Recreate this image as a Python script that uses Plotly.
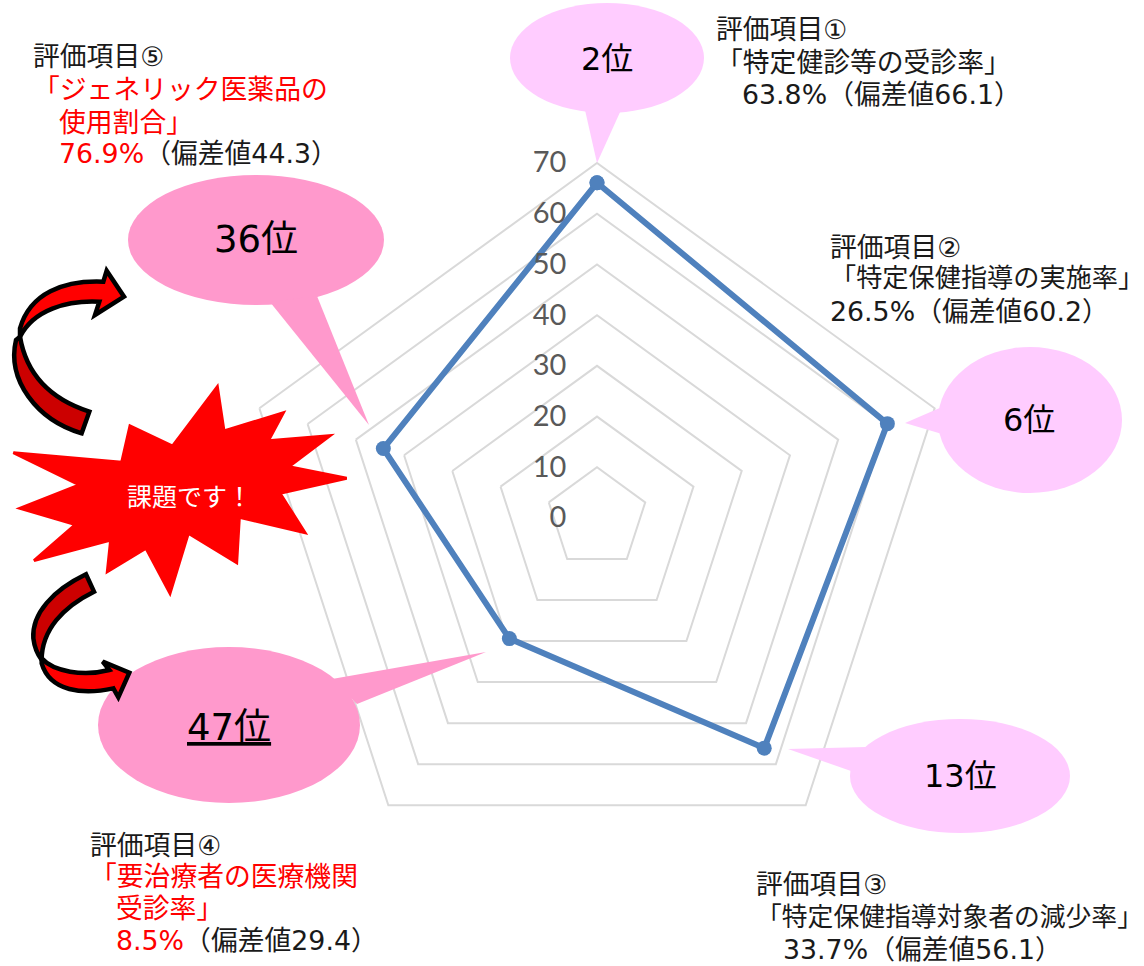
import plotly.graph_objects as go

W, H = 1144, 966
categories = ["評価項目①", "評価項目②", "評価項目③", "評価項目④", "評価項目⑤"]
deviation = [66.1, 60.2, 56.1, 29.4, 44.3]
rank_labels = ["2位", "6位", "13位", "<u>47位</u>", "36位"]
radial_ticks = [0, 10, 20, 30, 40, 50, 60, 70]

FONT = "DejaVu Sans, Noto Sans CJK JP, sans-serif"
LIGHT, PINK, RED = "#FFCCFF", "#FF99CC", "#FF0000"
RS = '<span style="color:#FF0000">'
SE = "</span>"

text_lines = [
    (717, 30, "評価項目①", 26.8), (717, 63, "「特定健診等の受診率」", 26.8), (743, 94, "63.8%（偏差値66.1）", 26.8),
    (831, 247, "評価項目②", 26.8), (831, 278, "「特定保健指導の実施率」", 26.2), (831, 311, "26.5%（偏差値60.2）", 26.8),
    (757, 884, "評価項目③", 26.8), (757, 917, "「特定保健指導対象者の減少率」", 25.8), (784, 949, "33.7%（偏差値56.1）", 26.8),
    (91, 845, "評価項目④", 26.8), (91, 876, RS + "「要治療者の医療機関" + SE, 26.8), (117, 908, RS + "受診率」" + SE, 26.8),
    (117, 940, RS + "8.5%" + SE + "（偏差値29.4）", 26.8),
    (34, 57, "評価項目⑤", 26.8), (34, 90, RS + "「ジェネリック医薬品の" + SE, 26.8), (60, 122, RS + "使用割合」" + SE, 26.8),
    (60, 153, RS + "76.9%" + SE + "（偏差値44.3）", 26.8),
]
rank_pos = [(607, 59, 32), (1029, 420, 32), (960, 776, 32), (229, 727, 37), (256, 239, 37)]

callouts = [
    ((607, 58, 97, 55), [(585, 110), (597, 163), (621, 110)], LIGHT),
    ((1030, 420, 92, 73), [(942, 407), (905, 423), (942, 434)], LIGHT),
    ((960, 776, 110, 57), [(866, 747), (788, 749), (851, 771)], LIGHT),
    ((256, 240, 128, 65), [(270, 302), (369, 425), (317, 296)], PINK),
    ((229, 725, 131, 78), [(332, 679), (486, 652), (357, 704)], PINK),
]

star_z = [(40, 668), (365, 697), (390, 588), (518, 648), (652, 470), (672, 603), (850, 548), (805, 632),
          (990, 617), (867, 710), (1040, 745), (840, 790), (915, 908), (718, 862), (710, 998), (565, 910),
          (510, 1090), (438, 955), (322, 1025), (332, 930), (102, 992), (226, 884), (60, 835), (238, 765)]

def px(x, y):
    return x / W, 1 - y / H

def zpt(x, y):
    a, b = px(x / 3, y / 3 + 230)
    return f"{a:.5f},{b:.5f}"

def zpath(cmds):
    out = []
    for c in cmds:
        if c == "Z":
            out.append("Z")
        else:
            out.append(c[0] + " " + " ".join(zpt(*p) for p in c[1:]))
    return " ".join(out)

shapes = []
for (cx, cy, rx, ry), tail, col in callouts:
    a, b = px(cx - rx, cy + ry)
    c, d = px(cx + rx, cy - ry)
    shapes.append(dict(type="circle", xref="paper", yref="paper", x0=a, y0=b, x1=c, y1=d,
                       fillcolor=col, line_width=0, layer="above"))
    pts = [px(*p) for p in tail]
    shapes.append(dict(type="path", xref="paper", yref="paper",
                       path="M " + " L ".join(f"{x:.5f},{y:.5f}" for x, y in pts) + " Z",
                       fillcolor=col, line_width=0, layer="above"))

shapes.append(dict(type="path", xref="paper", yref="paper", layer="above",
                   path="M " + " L ".join(zpt(*p) for p in star_z) + " Z",
                   fillcolor=RED, line=dict(color=RED, width=3)))

arrows = [
    ("#CC0000", [("M", (268, 545)), ("C", (160, 510), (80, 440), (60, 320)), ("L", (48, 330)),
                 ("C", (20, 450), (110, 570), (245, 610)), "Z"]),
    (RED, [("M", (60, 295)), ("C", (90, 190), (190, 150), (310, 155)), ("L", (320, 122)), ("L", (372, 200)),
           ("L", (285, 255)), ("L", (298, 215)), ("C", (200, 210), (100, 240), (60, 320)), "Z"]),
    ("#CC0000", [("M", (258, 1033)), ("C", (160, 1080), (95, 1150), (100, 1225)), ("C", (103, 1250), (110, 1270), (125, 1290)),
                 ("C", (125, 1200), (190, 1130), (282, 1085)), "Z"]),
    (RED, [("M", (125, 1285)), ("C", (160, 1325), (250, 1340), (328, 1320)), ("L", (308, 1295)), ("L", (388, 1328)),
           ("L", (355, 1402)), ("L", (340, 1375)), ("C", (250, 1395), (150, 1385), (125, 1300)), "Z"]),
]
for col, cmds in arrows:
    shapes.append(dict(type="path", xref="paper", yref="paper", layer="above", path=zpath(cmds),
                       fillcolor=col, line=dict(color="#000000", width=4.5)))

annotations = []
for x, y, t, s in text_lines:
    a, b = px(x - 3, y)
    annotations.append(dict(xref="paper", yref="paper", x=a, y=b, text=t, showarrow=False, xanchor="left",
                            yanchor="middle", font=dict(size=s, color="#1a1a1a", family=FONT)))
for (x, y, s), t in zip(rank_pos, rank_labels):
    a, b = px(x, y)
    annotations.append(dict(xref="paper", yref="paper", x=a, y=b, text=t, showarrow=False, xanchor="center",
                            yanchor="middle", font=dict(size=s, color="#000000", family=FONT)))
a, b = px(189, 495)
annotations.append(dict(xref="paper", yref="paper", x=a, y=b, text="課題です！", showarrow=False, xanchor="center",
                        yanchor="middle", font=dict(size=25, color="#FFFFFF", family="Noto Sans CJK JP")))

fig = go.Figure(go.Scatterpolar(
    r=deviation + deviation[:1], theta=categories + categories[:1], mode="lines+markers",
    line=dict(color="#4F81BD", width=6), marker=dict(color="#4F81BD", size=15), showlegend=False,
    hoverinfo="skip"))

R, CX, CY = 355, 597, 518
fig.update_layout(
    width=W, height=H, margin=dict(l=0, r=0, t=0, b=0), paper_bgcolor="white", plot_bgcolor="white",
    font=dict(family=FONT), shapes=shapes, annotations=annotations, showlegend=False,
    polar=dict(
        domain=dict(x=[(CX - R) / W, (CX + R) / W], y=[1 - (CY + R) / H, 1 - (CY - R) / H]),
        gridshape="linear", bgcolor="white",
        radialaxis=dict(range=[0, 70], tickvals=radial_ticks, angle=90, side="counterclockwise", tickangle=90,
                        showline=False, showgrid=True, gridcolor="#D9D9D9", gridwidth=2,
                        ticks="outside", ticklen=20, tickcolor="rgba(0,0,0,0)",
                        tickfont=dict(size=29, color="#595959", family="Lato")),
        angularaxis=dict(direction="clockwise", rotation=90, showticklabels=False, ticks="",
                         showgrid=False, showline=True, linecolor="#D9D9D9", linewidth=2),
    ),
)
fig.write_html("out.html", config=dict(displayModeBar=False),
               post_script="document.body.style.margin='0';document.body.style.overflow='hidden';")
